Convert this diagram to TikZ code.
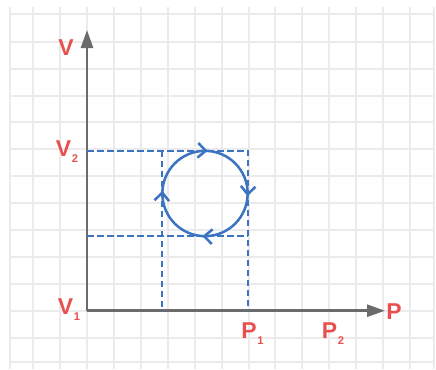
\documentclass[tikz,border=0pt]{standalone}
\usepackage{fontspec}
\setmainfont{Liberation Sans}
\usetikzlibrary{arrows.meta,decorations.markings}
\definecolor{gridgray}{HTML}{EBEBEB}
\definecolor{axisgray}{HTML}{6B6B6B}
\definecolor{labred}{HTML}{E8504F}
\definecolor{cycblue}{HTML}{3C74C1}
\newcommand{\sublab}[2]{#1\kern0.7pt\raisebox{-4.5pt}{\fontsize{8.4pt}{9pt}\selectfont #2}}

\begin{document}
\begin{tikzpicture}[x=0.75pt,y=-0.75pt,
  gridline/.style={line width=1.5pt,gridgray},
  lab/.style={font=\fontsize{17.2pt}{18pt}\selectfont\bfseries,text=labred,inner sep=0pt,anchor=base west},
  axis/.style={line width=2pt,axisgray,-{Triangle[length=13.5pt,width=9pt]}},
  guide/.style={line width=1.5pt,cycblue,dash pattern=on 5pt off 2.5pt},
  cyc/.style={line width=1.9pt,cycblue,postaction=decorate,
    decoration={markings,
      mark=at position 0.01 with {\arrow{Straight Barb[length=6pt,width=11pt]}},
      mark=at position 0.26 with {\arrow{Straight Barb[length=6pt,width=11pt]}},
      mark=at position 0.51 with {\arrow{Straight Barb[length=6pt,width=11pt]}},
      mark=at position 0.76 with {\arrow{Straight Barb[length=6pt,width=11pt]}}}}]
 \useasboundingbox (0,0) rectangle (436,369);
 % grid paper
 \foreach \gx in {9.5,434} \draw[gridline] (\gx,7) -- (\gx,369);
 \foreach \k in {0,...,14} \draw[gridline] ({33.3+26.9*\k},7) -- ({33.3+26.9*\k},369);
 \foreach \gy in {14,362} \draw[gridline] (9.5,\gy) -- (434,\gy);
 \foreach \k in {0,...,11} \draw[gridline] (9.5,{41.7+26.9*\k}) -- (434,{41.7+26.9*\k});
 % axes
 \coordinate (O) at (87,310.7);
 \coordinate (vtip) at (87,30);
 \coordinate (ptip) at (385,310.7);
 \draw[axis] (O) -- (vtip);
 \draw[axis] (O) -- (ptip);
 % guide lines of the cycle
 \coordinate (vhi) at (87,150.5);
 \coordinate (vlo) at (87,236);
 \coordinate (lhi) at (161.5,150.5);
 \coordinate (lbot) at (161.5,310.7);
 \coordinate (rhi) at (248,150.5);
 \coordinate (rlo) at (248,236);
 \coordinate (rbot) at (248,310.7);
 \draw[guide] (vhi) -- (rhi) -- (rbot);
 \draw[guide] (lhi) -- (lbot);
 \draw[guide] (vlo) -- (rlo);
 % the cycle, run clockwise
 \coordinate (c) at (205,193.5);
 \draw[cyc] (c) ++(0:32pt) arc[start angle=0,end angle=-360,radius=32pt];
 % labels
 \node[lab] (lv) at (58,55) {V};
 \node[lab] (lv2) at (55.5,156) {\sublab{V}{2}};
 \node[lab] (lv1) at (57.5,314) {\sublab{V}{1}};
 \node[lab] (lp) at (386,319) {P};
 \node[lab] (lp1) at (241,338) {\sublab{P}{1}};
 \node[lab] (lp2) at (321.5,338) {\sublab{P}{2}};
\end{tikzpicture}
\end{document}
